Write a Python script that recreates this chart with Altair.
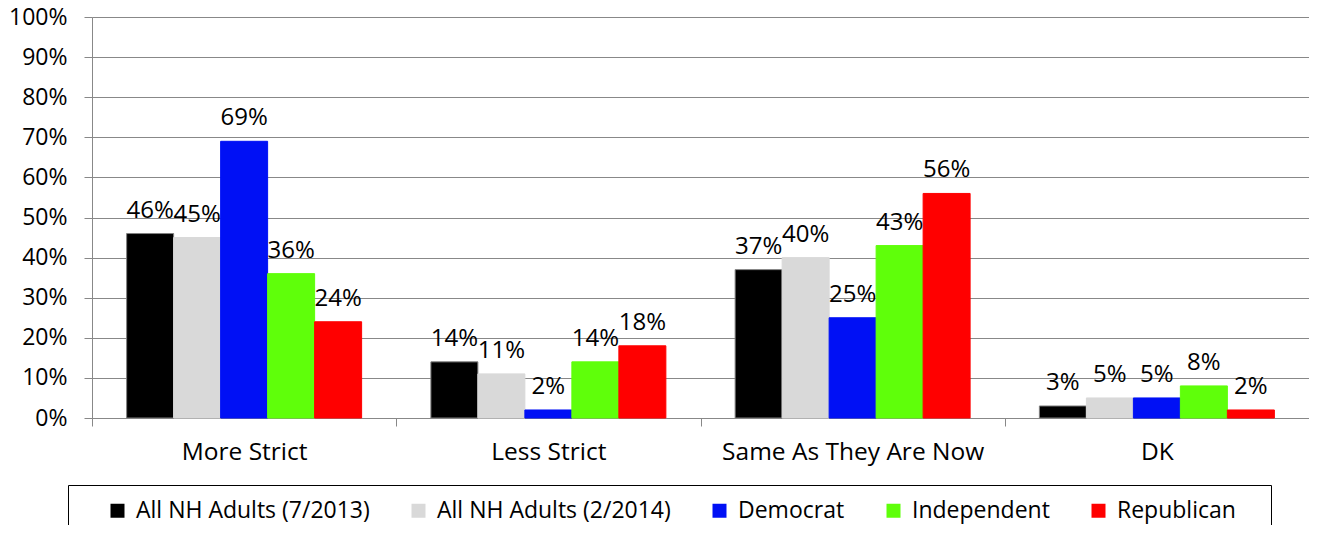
import altair as alt
import pandas as pd

categories = ["More Strict", "Less Strict", "Same As They Are Now", "DK"]
series = ["All NH Adults (7/2013)", "All NH Adults (2/2014)", "Democrat", "Independent", "Republican"]
colors = ["#000000", "#D9D9D9", "#0010F5", "#5FFF0A", "#FF0000"]
strokes = ["#808080", "#D9D9D9", "#0010F5", "#5FFF0A", "#FF0000"]
values_2013 = [46, 14, 37, 3]
values_2014 = [45, 11, 40, 5]
values_dem = [69, 2, 25, 5]
values_ind = [36, 14, 43, 8]
values_rep = [24, 18, 56, 2]

all_vals = [values_2013, values_2014, values_dem, values_ind, values_rep]
rows = []
for s, vals in zip(series, all_vals):
    for c, v in zip(categories, vals):
        rows.append({"category": c, "series": s, "value": v, "label": f"{v}%"})
df = pd.DataFrame(rows)

FONT = "Open Sans"

x = alt.X("category:N", sort=categories, title=None,
          scale=alt.Scale(paddingInner=0, paddingOuter=0),
          axis=alt.Axis(labelAngle=0, tickBand="extent", labelFontSize=24.5, labelFont=FONT,
                        labelColor="#000000", domainColor="#888888", tickColor="#888888",
                        tickSize=8, labelPadding=14, grid=False, labelLimit=0))
xo = alt.XOffset("series:N", sort=series,
                 scale=alt.Scale(paddingInner=0, paddingOuter=0.737))
y = alt.Y("value:Q", title=None,
          scale=alt.Scale(domain=[0, 100], nice=False),
          axis=alt.Axis(values=list(range(0, 101, 10)), labelExpr="datum.value + '%'",
                        labelFontSize=23, labelFont=FONT, labelColor="#000000",
                        domainColor="#888888", tickColor="#888888", gridColor="#888888",
                        tickSize=8, labelPadding=17, gridWidth=1))

color = alt.Color("series:N", sort=series,
                  scale=alt.Scale(domain=series, range=colors),
                  legend=alt.Legend(orient="none", legendX=-24, legendY=468, direction="horizontal",
                                    columns=5, title=" ", titleOrient="right", titlePadding=21,
                                    titleFontSize=20, symbolType="square", symbolSize=196,
                                    symbolStrokeWidth=0, labelFontSize=23, labelFont=FONT,
                                    labelColor="#000000", labelLimit=400, columnPadding=13,
                                    symbolOffset=24, padding=14, strokeColor="#000000",
                                    fillColor="#FFFFFF", labelOffset=7))
stroke = alt.Stroke("series:N", sort=series, scale=alt.Scale(domain=series, range=strokes), legend=None)

bars = alt.Chart(df).mark_bar(strokeWidth=1).encode(x=x, xOffset=xo, y=y, color=color, stroke=stroke)
texts = alt.Chart(df).mark_text(baseline="alphabetic", dy=-16, fontSize=24, font=FONT, color="#000000").encode(
    x=alt.X("category:N", sort=categories), xOffset=alt.XOffset("series:N", sort=series),
    y="value:Q", text="label:N")

chart = alt.layer(bars, texts).properties(
    width=1217, height=401,
    autosize=alt.AutoSizeParams(type="none"),
    padding={"left": 84, "top": 9, "right": 0, "bottom": 107},
).configure_view(stroke=None).configure(background="#FFFFFF")

chart.save("out.html", embed_options={"renderer": "svg", "actions": False})
